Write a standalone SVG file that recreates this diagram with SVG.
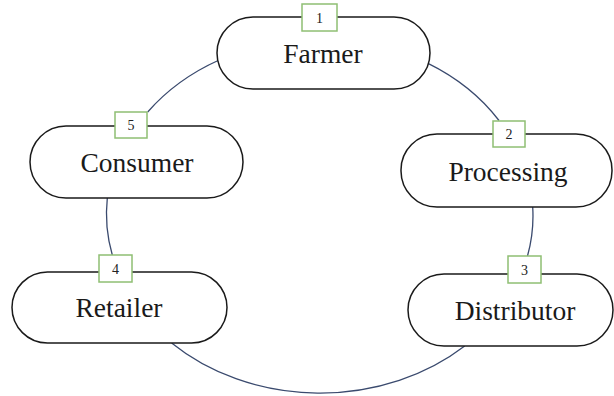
<svg xmlns="http://www.w3.org/2000/svg" width="614" height="396" viewBox="0 0 614 396">
  <style>
    .stage { fill: #ffffff; stroke: #1a1a1a; stroke-width: 1.5; }
    .stage-label { font-family: "Liberation Serif", "Times New Roman", serif; font-size: 27.5px; fill: #1a1a1a; text-anchor: middle; }
    .step { fill: #ffffff; stroke: #8fbf73; stroke-width: 1.5; }
    .step-num { font-family: "Liberation Serif", "Times New Roman", serif; font-size: 14px; fill: #222222; text-anchor: middle; }
    .link { fill: none; stroke: #3a4a6e; stroke-width: 1.3; }
  </style>

  <!-- cycle connectors: segments of one ellipse, centre (320,216), radii 213 x 177 -->
  <g id="connectors">
    <path class="link" d="M 428 63.4 A 213 177 0 0 1 499 120.5"/>
    <path class="link" d="M 532.7 207 A 213 177 0 0 1 527.5 256"/>
    <path class="link" d="M 464.7 346 A 213 177 0 0 1 171.6 343"/>
    <path class="link" d="M 112.3 255 A 213 177 0 0 1 107.3 198"/>
    <path class="link" d="M 147.7 112 A 213 177 0 0 1 219.2 60"/>
  </g>

  <g id="farmer">
    <rect class="stage" x="217" y="17" width="213" height="72" rx="36"/>
    <text class="stage-label" x="323" y="63">Farmer</text>
    <rect class="step" x="302" y="4" width="35" height="27"/>
    <text class="step-num" x="319.5" y="22.5">1</text>
  </g>

  <g id="processing">
    <rect class="stage" x="401" y="134" width="211" height="73" rx="36"/>
    <text class="stage-label" x="508" y="181">Processing</text>
    <rect class="step" x="493" y="121" width="32" height="26"/>
    <text class="step-num" x="509" y="139">2</text>
  </g>

  <g id="distributor">
    <rect class="stage" x="408" y="274" width="205" height="72" rx="36"/>
    <text class="stage-label" x="515" y="320">Distributor</text>
    <rect class="step" x="508" y="256" width="33" height="27"/>
    <text class="step-num" x="524.5" y="274.5">3</text>
  </g>

  <g id="retailer">
    <rect class="stage" x="12" y="272" width="215" height="71" rx="35.5"/>
    <text class="stage-label" x="119" y="317">Retailer</text>
    <rect class="step" x="99" y="255" width="33" height="27"/>
    <text class="step-num" x="115.5" y="273.5">4</text>
  </g>

  <g id="consumer">
    <rect class="stage" x="30" y="126" width="213" height="72" rx="36"/>
    <text class="stage-label" x="137" y="172">Consumer</text>
    <rect class="step" x="115" y="112" width="32" height="26"/>
    <text class="step-num" x="131" y="130">5</text>
  </g>
</svg>
